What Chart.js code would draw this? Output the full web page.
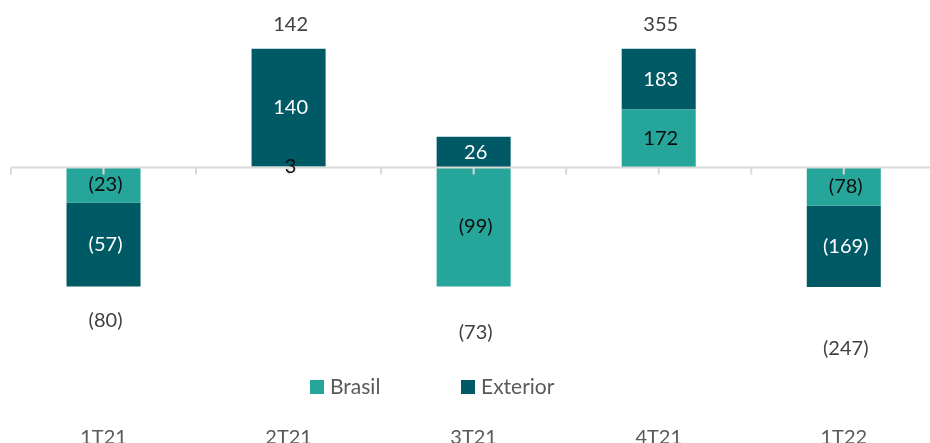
<!DOCTYPE html>
<html>
<head>
<meta charset="utf-8">
<script src="https://cdn.jsdelivr.net/npm/chart.js@4.4.0/dist/chart.umd.min.js"></script>
<style>
html, body { margin: 0; padding: 0; overflow: hidden; background: #fff; }
</style>
</head>
<body>
<canvas id="chart" width="940" height="514"></canvas>
<script>
const quarters = ['1T21', '2T21', '3T21', '4T21', '1T22'];
// values printed on the chart
const brasil = [-23, 3, -99, 172, -78];
const exterior = [-57, 140, 26, 183, -169];
const total = [-80, 142, -73, 355, -247];
// the reference is not drawn to scale, so these are the bar lengths as drawn there
const brasilBar = [-35, 1, -118.5, 57.5, -38];
const exteriorBar = [-83.5, 117, 30.5, 60.5, -81];
// where the total labels sit, on that same drawn scale
const totalPos = [-152.5, 141.8, -164.5, 141.8, -180.5];

const fmt = v => v < 0 ? '(' + Math.abs(v) + ')' : String(v);

// grey zero line with little ticks at every half category
const zeroLine = {
  id: 'zeroLine',
  afterDatasetsDraw(chart) {
    const {ctx, chartArea, scales: {x, y}} = chart;
    const y0 = y.getPixelForValue(0);
    const half = (x.getPixelForValue(1) - x.getPixelForValue(0)) / 2;
    ctx.save();
    ctx.strokeStyle = '#d9d9d9';
    ctx.lineWidth = 2;
    ctx.beginPath();
    ctx.moveTo(chartArea.left, y0);
    ctx.lineTo(chartArea.right, y0);
    quarters.forEach((q, i) => {
      const cx = x.getPixelForValue(i);
      [cx - half, cx, cx + half].forEach(px => {
        ctx.moveTo(px, y0);
        ctx.lineTo(px, y0 + 7);
      });
    });
    ctx.stroke();
    ctx.restore();
  }
};

const valueLabels = {
  id: 'valueLabels',
  afterDatasetsDraw(chart) {
    const {ctx} = chart;
    ctx.save();
    ctx.font = '20px Lato';
    ctx.textAlign = 'center';
    ctx.textBaseline = 'middle';
    chart.data.datasets.forEach((ds, di) => {
      chart.getDatasetMeta(di).data.forEach((el, i) => {
        const p = el.getCenterPoint();
        ctx.fillStyle = ds.labelColor;
        ctx.fillText(fmt(ds.values[i]), p.x + 2, p.y);
      });
    });
    ctx.restore();
  }
};

const legendRow = {
  id: 'legendRow',
  afterDraw(chart) {
    const {ctx} = chart;
    ctx.save();
    ctx.font = '21px Lato';
    ctx.textBaseline = 'middle';
    let px = 310;
    const py = 387;
    chart.data.datasets.filter(d => d.type === 'bar').forEach(ds => {
      ctx.fillStyle = ds.backgroundColor;
      ctx.fillRect(px, py - 7, 14, 14);
      ctx.fillStyle = '#595959';
      ctx.fillText(ds.label, px + 20, py);
      px += 151;
    });
    ctx.restore();
  }
};

new Chart(document.getElementById('chart'), {
  type: 'bar',
  data: {
    labels: quarters,
    datasets: [{
      type: 'bar',
      label: 'Brasil',
      data: brasilBar,
      values: brasil,
      labelColor: '#0d0d0d',
      backgroundColor: '#26a69a',
      categoryPercentage: 1,
      barPercentage: 0.4
    }, {
      type: 'bar',
      label: 'Exterior',
      data: exteriorBar,
      values: exterior,
      labelColor: '#ffffff',
      backgroundColor: '#005a66',
      categoryPercentage: 1,
      barPercentage: 0.4
    }, {
      type: 'line',
      label: 'Total',
      data: totalPos,
      values: total,
      labelColor: '#404040',
      stack: 'totals',
      showLine: false,
      pointRadius: 0
    }]
  },
  options: {
    responsive: false,
    animation: false,
    layout: { padding: { left: 11, right: 3.7, top: 0, bottom: 0 } },
    plugins: {
      legend: { display: false },
      tooltip: { enabled: false }
    },
    scales: {
      x: {
        stacked: true,
        grid: { display: false, drawTicks: false },
        border: { display: false },
        ticks: { color: '#595959', font: { family: 'Lato', size: 20 }, padding: 64 }
      },
      y: {
        stacked: true,
        display: false,
        min: -193.5,
        max: 166.5
      }
    }
  },
  plugins: [zeroLine, valueLabels, legendRow]
});
</script>
</body>
</html>
